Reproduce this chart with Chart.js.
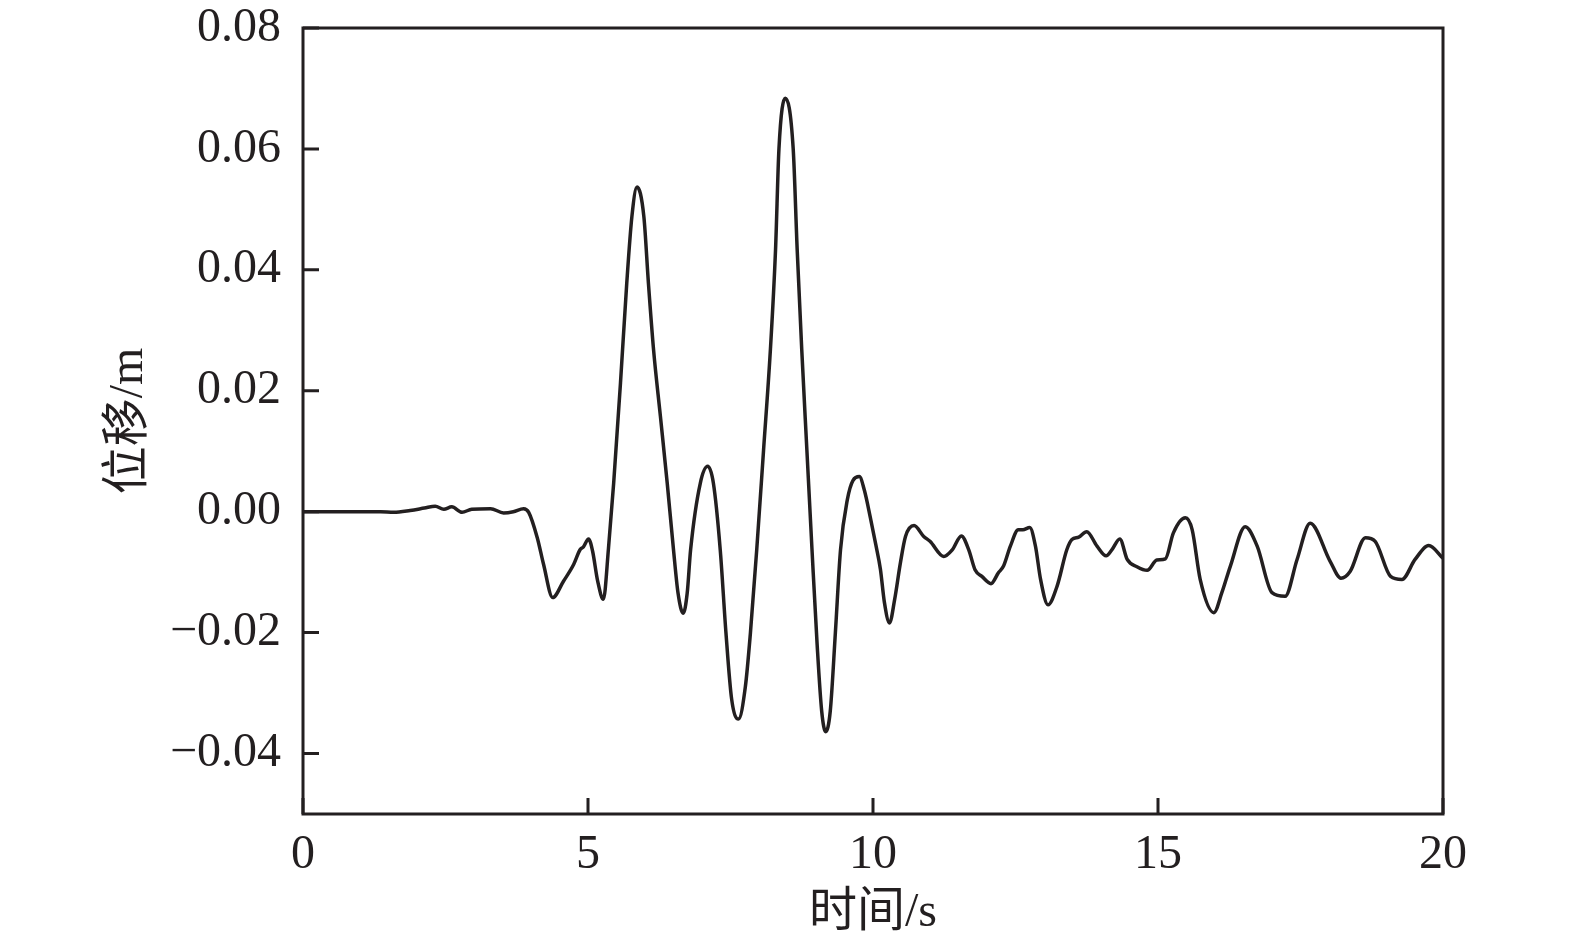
<!DOCTYPE html>
<html>
<head>
<meta charset="utf-8">
<script src="https://cdn.jsdelivr.net/npm/chart.js@4.4.1/dist/chart.umd.min.js"></script>
<style>
  html, body { margin: 0; padding: 0; background: #fff; }
  #wrap { width: 1575px; height: 945px; }
</style>
</head>
<body>
<div id="wrap"><canvas id="dispChart"></canvas></div>
<script>
// time (s) and displacement (m)
var times = [0, 0.5, 1.0, 1.36, 1.59, 1.88, 2.13, 2.32, 2.47, 2.61, 2.79, 2.96, 3.29, 3.52, 3.69, 3.87, 3.96,
     4.11, 4.22, 4.38, 4.57, 4.75, 4.86, 4.92, 5.01, 5.08, 5.17, 5.27, 5.36, 5.45, 5.57, 5.68, 5.77, 5.86,
     5.98, 6.06, 6.15, 6.27, 6.39, 6.5, 6.58, 6.67, 6.74, 6.8, 6.97, 7.1, 7.2, 7.32, 7.42, 7.52, 7.64,
     7.76, 7.85, 7.96, 8.08, 8.2, 8.29, 8.35, 8.46, 8.6, 8.67, 8.75, 8.84, 8.93, 9.02, 9.1, 9.17, 9.25,
     9.34, 9.43, 9.55, 9.65, 9.76, 9.85, 9.95, 10.05, 10.13, 10.2, 10.29, 10.38, 10.48, 10.57, 10.72,
     10.89, 11.0, 11.24, 11.39, 11.55, 11.68, 11.79, 11.91, 12.07, 12.2, 12.29, 12.41, 12.55, 12.63,
     12.75, 12.85, 12.94, 13.07, 13.23, 13.4, 13.49, 13.61, 13.75, 13.93, 14.09, 14.19, 14.33, 14.46,
     14.63, 14.81, 14.98, 15.13, 15.27, 15.48, 15.6, 15.74, 15.98, 16.12, 16.27, 16.53, 16.74, 17.0,
     17.23, 17.44, 17.67, 18.02, 18.21, 18.37, 18.64, 18.81, 19.08, 19.28, 19.51, 19.75, 20.0];
var displacement = [0, 0, 0, 0, -0.0001, 0.0002, 0.0006, 0.0009, 0.0004, 0.0008, -0.0001, 0.0004, 0.0005, -0.0002, 0, 0.0005, -0.0001,
     -0.0043, -0.0087, -0.0142, -0.0115, -0.0087, -0.0063, -0.0058, -0.0045, -0.0065, -0.0115, -0.0145, -0.006, 0.0047, 0.0213, 0.0378, 0.0488, 0.0537,
     0.0488, 0.0378, 0.0268, 0.0158, 0.0047, -0.0063, -0.0135, -0.0168, -0.0135, -0.0063, 0.0047, 0.0075, 0.0047, -0.0063, -0.02, -0.031, -0.0343,
     -0.029, -0.02, -0.0063, 0.0102, 0.0268, 0.0433, 0.06, 0.0684, 0.06, 0.0433, 0.0268, 0.0102, -0.0063, -0.022, -0.033, -0.0364, -0.033,
     -0.02, -0.0063, 0.002, 0.0052, 0.0058, 0.0035, -0.0008, -0.0055, -0.0095, -0.015, -0.0184, -0.0145, -0.0085, -0.0041, -0.0023,
     -0.0041, -0.0049, -0.0074, -0.0063, -0.004, -0.0063, -0.0096, -0.0107, -0.0119, -0.0101, -0.009, -0.0057, -0.003, -0.003,
     -0.0026, -0.0057, -0.0112, -0.0154, -0.0123, -0.0063, -0.0046, -0.0042, -0.0033, -0.0057, -0.0073, -0.0063, -0.0045, -0.0079,
     -0.0091, -0.0097, -0.008, -0.0078, -0.0035, -0.001, -0.003, -0.0112, -0.0167, -0.0134, -0.009, -0.0025, -0.0057, -0.0134,
     -0.014, -0.0079, -0.0019, -0.0082, -0.011, -0.0099, -0.0043, -0.0049, -0.0107, -0.0112, -0.0079, -0.0056, -0.0077];
var xTicks = [0, 5, 10, 15, 20];
var yTicks = [-0.04, -0.02, 0, 0.02, 0.04, 0.06, 0.08];

var ink = '#231f20';
var serif = '"Liberation Serif", "Noto Sans CJK SC", serif';

var points = times.map(function (t, i) { return { x: t, y: displacement[i] }; });

// box round the plot plus inward tick marks
var frame = {
     id: 'frame',
     afterDraw: function (chart) {
          var ctx = chart.ctx, a = chart.chartArea;
          var x = chart.scales.x, y = chart.scales.y;
          ctx.save();
          ctx.strokeStyle = ink;
          ctx.lineWidth = 3;
          ctx.strokeRect(a.left, a.top, a.right - a.left, a.bottom - a.top);
          ctx.beginPath();
          yTicks.forEach(function (v) {
               var py = y.getPixelForValue(v);
               ctx.moveTo(a.left, py);
               ctx.lineTo(a.left + 16, py);
          });
          xTicks.forEach(function (v) {
               var px = x.getPixelForValue(v);
               ctx.moveTo(px, a.bottom);
               ctx.lineTo(px, a.bottom - 16);
          });
          ctx.stroke();
          ctx.restore();
     }
};

new Chart(document.getElementById('dispChart'), {
     type: 'line',
     data: {
          datasets: [{
               data: points,
               borderColor: ink,
               borderWidth: 3.5,
               pointRadius: 0,
               cubicInterpolationMode: 'monotone',
               fill: false
          }]
     },
     options: {
          responsive: true,
          maintainAspectRatio: false,
          animation: false,
          layout: { padding: { left: 0, right: 132, top: 28, bottom: 0 } },
          plugins: {
               legend: { display: false },
               tooltip: { enabled: false }
          },
          scales: {
               x: {
                    type: 'linear',
                    min: 0,
                    max: 20,
                    afterBuildTicks: function (s) { s.ticks = xTicks.map(function (v) { return { value: v }; }); },
                    afterFit: function (s) { s.height = 131; s.paddingLeft = 0; s.paddingRight = 0; },
                    grid: { display: false, drawTicks: false },
                    border: { display: false },
                    ticks: {
                         color: ink,
                         padding: 13,
                         maxRotation: 0,
                         font: { family: serif, size: 48 },
                         callback: function (v) { return String(v); }
                    },
                    title: {
                         display: true,
                         text: '时间/s',
                         color: ink,
                         padding: { top: 0, bottom: 3 },
                         font: { family: serif, size: 48 }
                    }
               },
               y: {
                    type: 'linear',
                    min: -0.05,
                    max: 0.08,
                    afterBuildTicks: function (s) { s.ticks = yTicks.map(function (v) { return { value: v }; }); },
                    afterFit: function (s) { s.width = 303; s.paddingTop = 0; s.paddingBottom = 0; },
                    grid: { display: false, drawTicks: false },
                    border: { display: false },
                    ticks: {
                         color: ink,
                         padding: 22,
                         font: { family: serif, size: 48 },
                         callback: function (v) { return Number(v).toFixed(2).replace('-', '\u2212'); }
                    },
                    title: {
                         display: true,
                         text: '位移/m',
                         color: ink,
                         padding: { top: 101, bottom: 0 },
                         font: { family: serif, size: 48 }
                    }
               }
          }
     },
     plugins: [frame]
});
</script>
</body>
</html>
